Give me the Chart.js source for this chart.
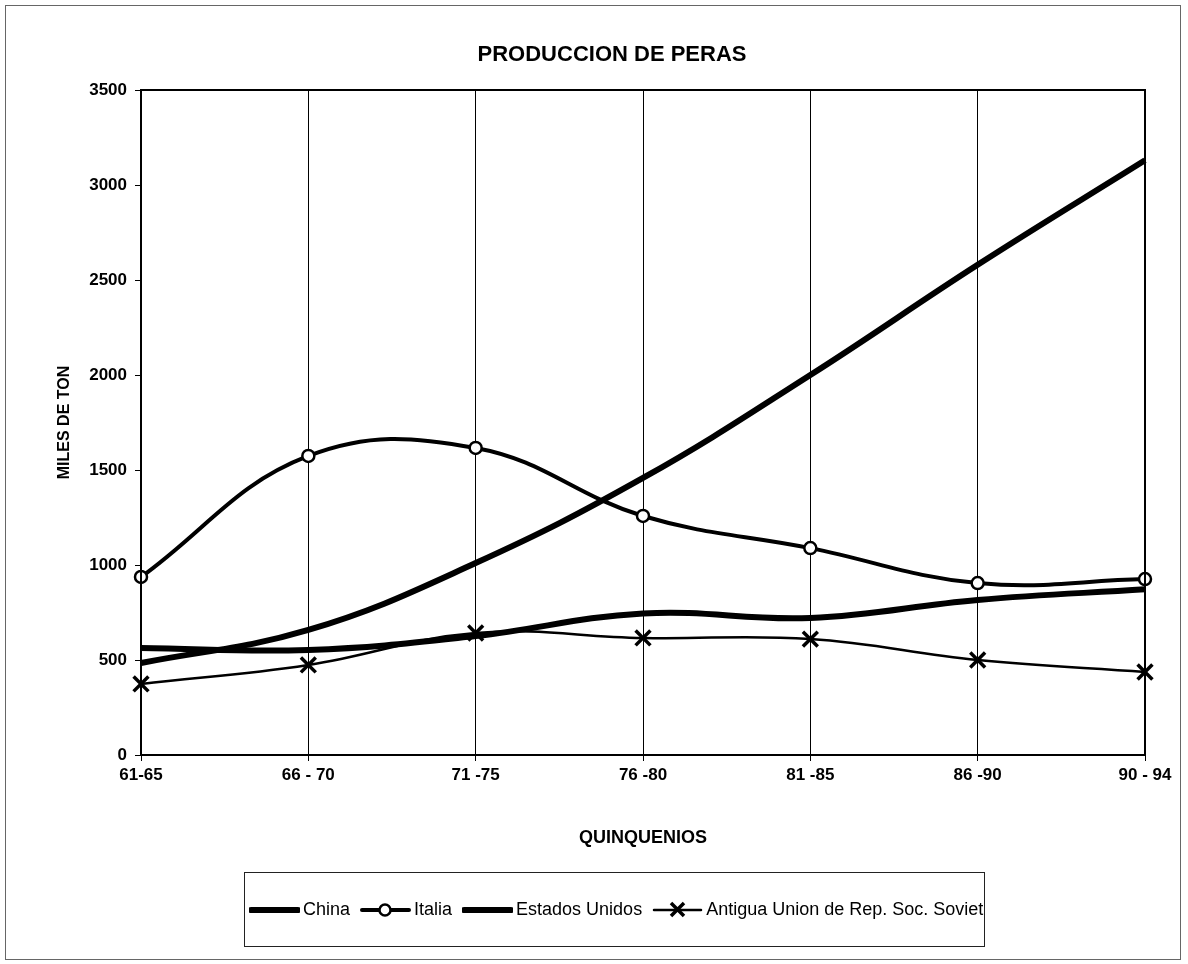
<!DOCTYPE html>
<html>
<head>
<meta charset="utf-8">
<script src="https://cdn.jsdelivr.net/npm/chart.js@4"></script>
<style>
  body { margin: 0; background: #fff; font-family: Arial, "Liberation Sans", sans-serif; }
  #wrap { position: relative; width: 1188px; height: 964px; }
  #frame { position: absolute; left: 5px; top: 5px; width: 1174px; height: 953px; border: 1px solid #666; }
  #legend {
    position: absolute; left: 244px; top: 872px; width: 741px; height: 75px;
    border: 1px solid #222; display: flex; align-items: center; padding-left: 4px;
    box-sizing: border-box; font-size: 18px; color: #000; white-space: nowrap;
  }
  #legend .item { display: flex; align-items: center; margin-right: 10px; }
  #legend svg { display: block; margin-right: 3px; }
</style>
</head>
<body>
<div id="wrap">
  <div id="frame"></div>
  <canvas id="chart" width="1188" height="964"></canvas>
  <div id="legend"></div>
</div>
<script>
const quinquenios = ['61-65', '66 - 70', '71 -75', '76 -80', '81 -85', '86 -90', '90 - 94'];
const china = [484, 658, 1010, 1458, 2000, 2580, 3130];
const italia = [937, 1574, 1616, 1258, 1089, 905, 926];
const estadosUnidos = [563, 553, 626, 745, 721, 816, 872];
const urss = [374, 474, 642, 616, 610, 500, 437];
const yTicks = [0, 500, 1000, 1500, 2000, 2500, 3000, 3500];

const series = [
  { label: 'China', data: china, borderWidth: 6, pointStyle: false, radius: 0 },
  { label: 'Italia', data: italia, borderWidth: 4, pointStyle: 'circle', radius: 6 },
  { label: 'Estados Unidos', data: estadosUnidos, borderWidth: 6, pointStyle: false, radius: 0 },
  { label: 'Antigua Union de Rep. Soc. Soviet', data: urss, borderWidth: 2.5, pointStyle: 'crossRot', radius: 10.5 }
];

const plotFrame = {
  id: 'plotFrame',
  afterDatasetsDraw(chart) {
    const a = chart.chartArea, ctx = chart.ctx;
    ctx.save();
    ctx.strokeStyle = '#000';
    ctx.lineWidth = 2;
    ctx.strokeRect(a.left, a.top, a.right - a.left, a.bottom - a.top);
    ctx.restore();
  }
};

const tickFont = { family: 'Arial', size: 17, weight: 'bold' };
const padLeft = 79; // shifts the title centre like the original

new Chart(document.getElementById('chart'), {
  type: 'line',
  data: {
    labels: quinquenios,
    datasets: series.map(s => ({
      label: s.label,
      data: s.data,
      borderColor: '#000',
      borderWidth: s.borderWidth,
      tension: 0.4,
      pointStyle: s.pointStyle,
      pointRadius: s.radius,
      pointBackgroundColor: s.pointStyle === 'circle' ? '#fff' : '#000',
      pointBorderColor: '#000',
      pointBorderWidth: s.pointStyle === 'crossRot' ? 3.5 : 2.5,
      fill: false
    }))
  },
  options: {
    responsive: false,
    animation: false,
    layout: { padding: { left: padLeft, right: 43, top: 0, bottom: 0 } },
    plugins: {
      legend: { display: false },
      tooltip: { enabled: false },
      title: {
        display: true,
        text: 'PRODUCCION DE PERAS',
        color: '#000',
        font: { family: 'Arial', size: 22, weight: 'bold' },
        padding: { top: 42, bottom: 21.6 }
      }
    },
    scales: {
      x: {
        offset: false,
        grid: { color: '#000', lineWidth: 1, drawTicks: true, tickLength: 6 },
        border: { color: '#000', width: 2 },
        ticks: { color: '#000', font: tickFont, padding: 4, maxRotation: 0 },
        title: {
          display: true, text: 'QUINQUENIOS', color: '#000',
          font: { family: 'Arial', size: 18, weight: 'bold' },
          padding: { top: 0, bottom: 115 }
        },
        afterFit(scale) { scale.height = 209; }
      },
      y: {
        min: 0, max: 3500,
        afterBuildTicks(scale) { scale.ticks = yTicks.map(v => ({ value: v })); },
        grid: { drawOnChartArea: false, color: '#000', tickLength: 6 },
        border: { color: '#000', width: 2 },
        ticks: { color: '#000', font: tickFont, padding: 8, callback: v => String(v) },
        title: {
          display: true, text: 'MILES DE TON', color: '#000',
          font: { family: 'Arial', size: 16, weight: 'bold' },
          padding: { top: 65 - padLeft - 9.6, bottom: 0 }
        },
        afterFit(scale) { scale.width = 141 - padLeft; }
      }
    }
  },
  plugins: [plotFrame]
});

// legend like the original: line swatch, marker, then label
const legend = document.getElementById('legend');
series.forEach(s => {
  const item = document.createElement('div');
  item.className = 'item';
  let mark = '';
  if (s.pointStyle === 'circle') {
    mark = '<circle cx="25" cy="9" r="5.5" fill="#fff" stroke="#000" stroke-width="2.5"/>';
  } else if (s.pointStyle === 'crossRot') {
    mark = '<path d="M19 2 L32 15 M32 2 L19 15" stroke="#000" stroke-width="3.5"/>';
  }
  item.innerHTML =
    '<svg width="51" height="18"><line x1="2" y1="9" x2="49" y2="9" stroke="#000" stroke-width="' +
    s.borderWidth + '" stroke-linecap="round"/>' + mark + '</svg><span>' + s.label + '</span>';
  legend.appendChild(item);
});
</script>
</body>
</html>
